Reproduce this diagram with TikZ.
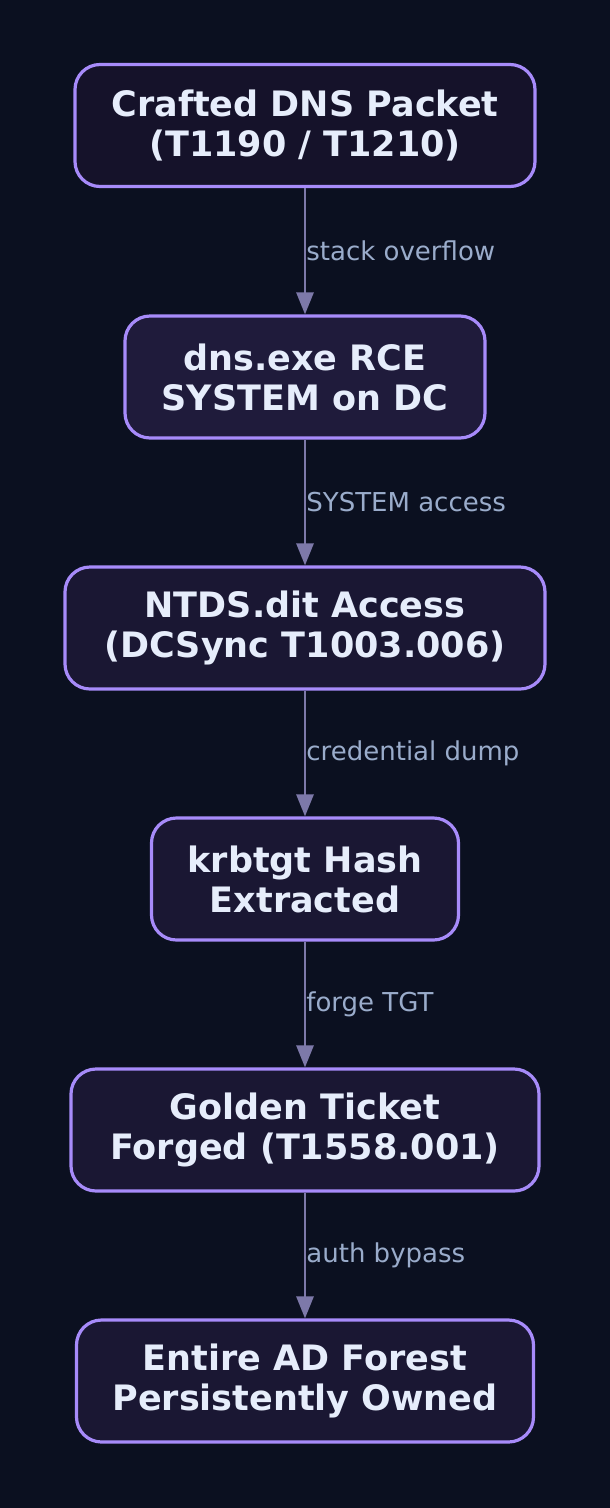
\documentclass[tikz,border=0pt]{standalone}
\usepackage{fontspec}
\setmainfont{DejaVu Sans}
\usetikzlibrary{arrows.meta}
\definecolor{bgcol}{HTML}{0B1020}
\definecolor{boxline}{HTML}{A78BFA}
\definecolor{boxtext}{HTML}{E6EDFB}
\definecolor{edgecol}{HTML}{7D79A9}
\definecolor{labcol}{HTML}{9AACCB}
\definecolor{fillA}{HTML}{15122A}
\definecolor{fillB}{HTML}{1F1B3B}
\definecolor{fillC}{HTML}{1A1733}
\tikzset{
  stepbox/.style={draw=boxline, line width=3.2pt, rounded corners=25pt, fill=fillC,
    minimum height=122pt, align=center, text=boxtext,
    font=\fontsize{35}{40}\selectfont\bfseries},
  flow/.style={draw=edgecol, line width=2.8pt, -{Triangle[length=22pt,width=17pt]}},
  flowlabel/.style={anchor=west, inner sep=0pt, text=labcol,
    font=\fontsize{26}{30}\selectfont}
}
\newcommand{\drawFlow}[3]{
   \draw[flow] (#1) -- node[flowlabel] {#3} (#2);
}

\begin{document}
\begin{tikzpicture}[x=1pt, y=-1pt]
%%%%%%%%%%%%%%%%%%

%Background
	\fill[bgcol] (0,0) rectangle (610,1508);
	\useasboundingbox (0,0) rectangle (610,1508);

%Steps
	\node[stepbox, fill=fillA, minimum width=460pt] (packet) at (305,125.5) {Crafted DNS Packet\\(T1190 / T1210)};
	\node[stepbox, fill=fillB, minimum width=360pt] (rce) at (305,377) {dns.exe RCE\\SYSTEM on DC};
	\node[stepbox, minimum width=480pt] (ntds) at (305,628) {NTDS.dit Access\\(DCSync T1003.006)};
	\node[stepbox, minimum width=307pt] (krbtgt) at (305,879) {krbtgt Hash\\Extracted};
	\node[stepbox, minimum width=468pt] (golden) at (305,1130) {Golden Ticket\\Forged (T1558.001)};
	\node[stepbox, minimum width=457pt] (forest) at (305,1381) {Entire AD Forest\\Persistently Owned};

% Connect steps
\drawFlow{packet}{rce}{stack overflow}
\drawFlow{rce}{ntds}{SYSTEM access}
\drawFlow{ntds}{krbtgt}{credential dump}
\drawFlow{krbtgt}{golden}{forge TGT}
\drawFlow{golden}{forest}{auth bypass}

\end{tikzpicture}
\end{document}
